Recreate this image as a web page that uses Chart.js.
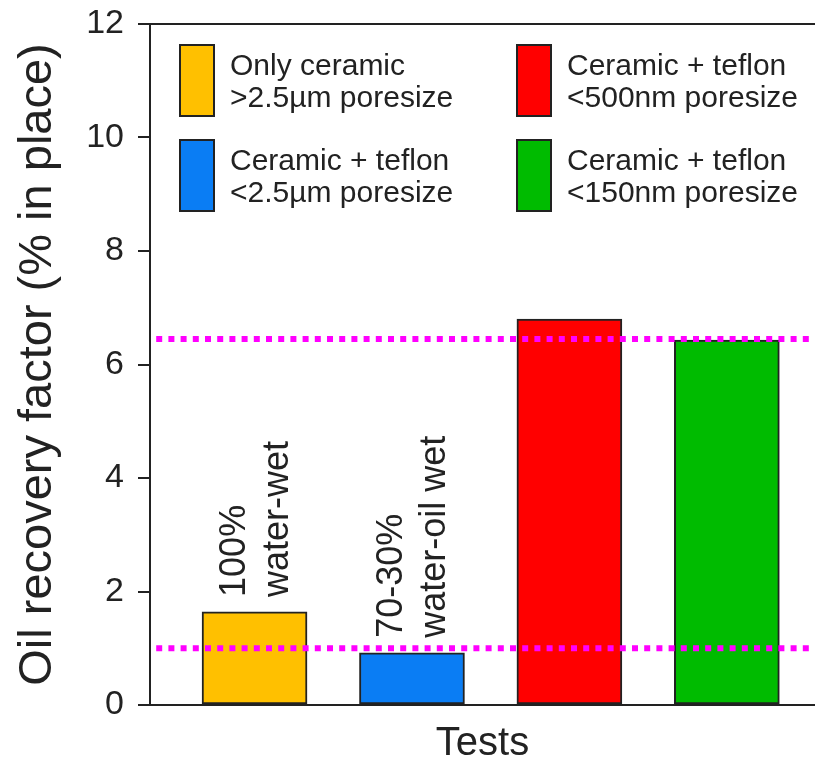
<!DOCTYPE html>
<html>
<head>
<meta charset="utf-8">
<script src="https://cdn.jsdelivr.net/npm/chart.js@4/dist/chart.umd.min.js"></script>
<style>
  html, body { margin: 0; padding: 0; background: #fff; }
</style>
</head>
<body>
<canvas id="chart" width="815" height="764"></canvas>
<script>
// values
const categories = ['Only ceramic >2.5µm poresize', 'Ceramic + teflon <2.5µm poresize',
                    'Ceramic + teflon <500nm poresize', 'Ceramic + teflon <150nm poresize'];
const legendLines = [['Only ceramic', '>2.5µm poresize'], ['Ceramic + teflon', '<2.5µm poresize'],
                     ['Ceramic + teflon', '<500nm poresize'], ['Ceramic + teflon', '<150nm poresize']];
const testPositions = [1, 2, 3, 4];
const recoveryFactor = [1.64, 0.92, 6.80, 6.43];
const barColors = ['#FFC000', '#0A7DF4', '#FF0000', '#00BB00'];
const refLevels = [6.45, 1.0];
const wettability = [['100%', 'water-wet'], ['70-30%', 'water-oil wet'], null, null];
const yRange = [0, 12];
const xRange = [0.336, 4.56];

const INK = '#222';
const FONT = '"Liberation Sans", Arial, sans-serif';

// legend boxes + rotated wettability notes
const notesPlugin = {
  id: 'notes',
  afterDatasetsDraw(chart) {
    const ctx = chart.ctx;
    const xs = chart.scales.x, ys = chart.scales.y;
    ctx.save();
    ctx.fillStyle = INK;
    ctx.font = '36px ' + FONT;
    ctx.textAlign = 'left';
    ctx.textBaseline = 'alphabetic';
    wettability.forEach((lines, i) => {
      if (!lines) return;
      const x = xs.getPixelForValue(testPositions[i]);
      const y = ys.getPixelForValue(recoveryFactor[i]);
      ctx.save();
      ctx.translate(x, y - 15);
      ctx.rotate(-Math.PI / 2);
      ctx.fillText(lines[0], 0, -10);
      ctx.fillText(lines[1], 0, 33);
      ctx.restore();
    });
    ctx.restore();
  },
  afterDraw(chart) {
    const ctx = chart.ctx;
    const area = chart.chartArea;
    const colX = [30, 367], rowY = [21, 116];
    ctx.save();
    ctx.font = '30px ' + FONT;
    ctx.textAlign = 'left';
    ctx.textBaseline = 'alphabetic';
    categories.forEach((c, i) => {
      const bx = area.left + colX[Math.floor(i / 2)];
      const by = area.top + rowY[i % 2];
      ctx.fillStyle = barColors[i];
      ctx.fillRect(bx, by, 34, 71);
      ctx.lineWidth = 2;
      ctx.strokeStyle = INK;
      ctx.strokeRect(bx, by, 34, 71);
      ctx.fillStyle = INK;
      ctx.fillText(legendLines[i][0], bx + 50, by + 30);
      ctx.fillText(legendLines[i][1], bx + 50, by + 62);
    });
    ctx.restore();
  }
};

const datasets = [{
  type: 'bar',
  label: 'Oil recovery factor',
  data: testPositions.map((x, i) => ({ x: x, y: recoveryFactor[i] })),
  backgroundColor: barColors,
  borderColor: INK,
  borderWidth: 2,
  borderSkipped: false,
  barThickness: 105,
  order: 2
}];
refLevels.forEach(lvl => {
  datasets.push({
    type: 'line',
    data: [{ x: xRange[0], y: lvl }, { x: xRange[1], y: lvl }],
    borderColor: '#FF00FF',
    borderWidth: 6,
    borderDash: [6, 6.2],
    borderDashOffset: 6,
    borderCapStyle: 'butt',
    pointRadius: 0,
    order: 1
  });
});

new Chart(document.getElementById('chart'), {
  type: 'bar',
  data: { datasets: datasets },
  options: {
    responsive: false,
    devicePixelRatio: 1,
    animation: false,
    layout: { padding: { top: 24, right: 0, left: 0, bottom: 0 } },
    plugins: { legend: { display: false }, tooltip: { enabled: false } },
    scales: {
      x: {
        type: 'linear',
        offset: false,
        min: xRange[0],
        max: xRange[1],
        grid: { display: false },
        ticks: { display: false },
        border: { display: true, color: INK, width: 2 },
        title: { display: true, text: 'Tests', color: INK,
                 font: { family: FONT, size: 40, lineHeight: 1.0 }, padding: 0 },
        afterFit: s => { s.height = 59; }
      },
      y: {
        min: yRange[0],
        max: yRange[1],
        ticks: { stepSize: 2, color: INK, font: { family: FONT, size: 34 }, padding: 14 },
        grid: {
          color: c => (c.tick && c.tick.value === yRange[1]) ? INK : 'rgba(0,0,0,0)',
          tickColor: INK,
          tickLength: 12,
          lineWidth: 2
        },
        border: { display: true, color: INK, width: 2 },
        title: { display: true, text: 'Oil recovery factor (% in place)', color: INK,
                 font: { family: FONT, size: 47 }, padding: { top: 10, bottom: 0 } },
        afterFit: s => { s.width = 150; s.paddingTop = 0; s.paddingBottom = 0; }
      }
    }
  },
  plugins: [notesPlugin]
});
</script>
</body>
</html>
